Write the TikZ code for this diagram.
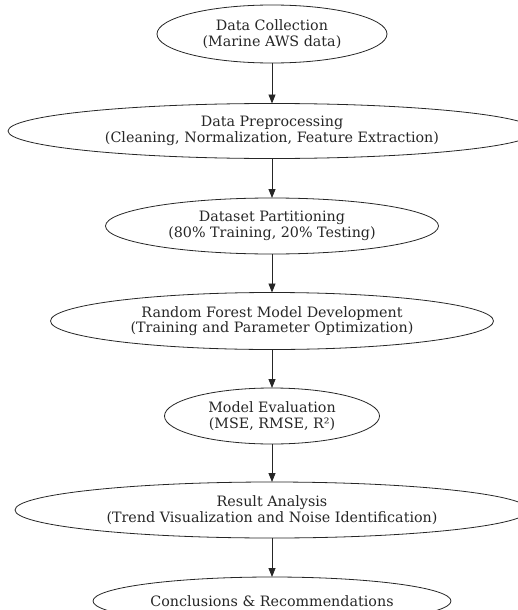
\documentclass[tikz,border=0pt]{standalone}
\usepackage{fontspec}
\setmainfont{DejaVu Serif}
\usetikzlibrary{shapes.geometric,arrows.meta}
\begin{document}
\begin{tikzpicture}[x=1pt,y=1pt,
  stage/.style={draw=black!85, line width=0.8pt, ellipse, inner sep=0pt, outer sep=0pt,
    align=center, font=\fontsize{14.3}{15.5}\selectfont, text=black!85},
  flow/.style={draw=black!85, line width=0.8pt, -{Triangle[length=9pt,width=7pt]}}]
\useasboundingbox (0,0) rectangle (518,-610);
\clip (0,0) rectangle (518,-610);
\node[stage, minimum width=230pt, minimum height=58pt] (n1) at (272,-34) {Data Collection\\(Marine AWS data)};
\node[stage, minimum width=528pt, minimum height=55pt] (n2) at (272,-131) {Data Preprocessing\\(Cleaning, Normalization, Feature Extraction)};
\node[stage, minimum width=333pt, minimum height=56pt] (n3) at (272,-226) {Dataset Partitioning\\(80\% Training, 20\% Testing)};
\node[stage, minimum width=443pt, minimum height=57pt] (n4) at (272,-321) {Random Forest Model Development\\(Training and Parameter Optimization)};
\node[stage, minimum width=215pt, minimum height=56pt] (n5) at (272,-416) {Model Evaluation\\(MSE, RMSE, R²)};
\node[stage, minimum width=514pt, minimum height=56pt] (n6) at (272,-510) {Result Analysis\\(Trend Visualization and Noise Identification)};
\node[stage, minimum width=358pt, minimum height=48pt] (n7) at (272,-601) {Conclusions \& Recommendations};
\draw[flow] (n1) -- (n2);
\draw[flow] (n2) -- (n3);
\draw[flow] (n3) -- (n4);
\draw[flow] (n4) -- (n5);
\draw[flow] (n5) -- (n6);
\draw[flow] (n6) -- (n7);
\end{tikzpicture}
\end{document}
